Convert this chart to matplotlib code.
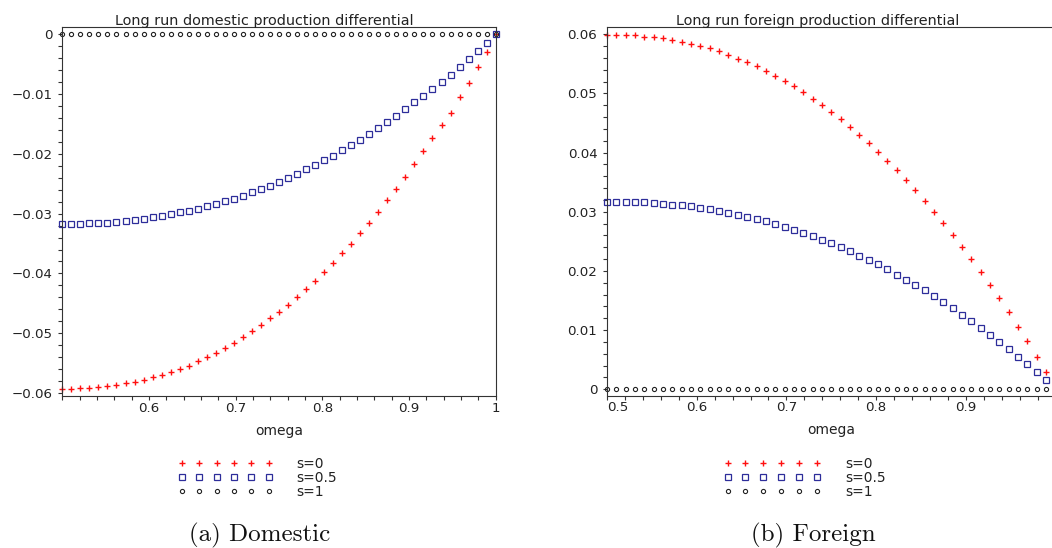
import numpy as np
import matplotlib
matplotlib.use("Agg")
import matplotlib.pyplot as plt
from matplotlib.ticker import FixedLocator, FixedFormatter, MultipleLocator

# ---------------- data ----------------
omega = np.linspace(0.5, 1.0, 49)

dom_s0 = [-0.0593, -0.0593, -0.0592, -0.0592, -0.0590, -0.0589, -0.0587, -0.0584, -0.0581, -0.0578,
          -0.0574, -0.0570, -0.0565, -0.0560, -0.0554, -0.0547, -0.0540, -0.0533, -0.0524, -0.0516,
          -0.0507, -0.0497, -0.0486, -0.0475, -0.0464, -0.0452, -0.0439, -0.0426, -0.0412, -0.0397,
          -0.0382, -0.0366, -0.0350, -0.0333, -0.0315, -0.0297, -0.0278, -0.0259, -0.0238, -0.0217,
          -0.0196, -0.0174, -0.0152, -0.0131, -0.0105, -0.0081, -0.0055, -0.0029, 0.0]
dom_s05 = [-0.0317, -0.0317, -0.0317, -0.0316, -0.0316, -0.0315, -0.0314, -0.0312, -0.0311, -0.0309,
           -0.0306, -0.0304, -0.0301, -0.0298, -0.0295, -0.0292, -0.0288, -0.0284, -0.0279, -0.0275,
           -0.0270, -0.0264, -0.0259, -0.0253, -0.0247, -0.0240, -0.0233, -0.0226, -0.0219, -0.0211,
           -0.0203, -0.0194, -0.0185, -0.0176, -0.0167, -0.0157, -0.0147, -0.0136, -0.0125, -0.0114,
           -0.0103, -0.0092, -0.0079, -0.0068, -0.0054, -0.0042, -0.0028, -0.0015, 0.0]
dom_s1 = [0.0] * 49

for_s0 = [0.0599, 0.0599, 0.0598, 0.0598, 0.0596, 0.0595, 0.0593, 0.0590, 0.0587, 0.0584,
          0.0580, 0.0576, 0.0571, 0.0565, 0.0559, 0.0553, 0.0546, 0.0538, 0.0530, 0.0521,
          0.0512, 0.0502, 0.0491, 0.0480, 0.0469, 0.0456, 0.0444, 0.0430, 0.0416, 0.0401,
          0.0386, 0.0370, 0.0354, 0.0336, 0.0318, 0.0300, 0.0281, 0.0261, 0.0241, 0.0220,
          0.0198, 0.0176, 0.0154, 0.0131, 0.0106, 0.0081, 0.0055, 0.0029, 0.0]
for_s05 = [0.0317, 0.0317, 0.0317, 0.0316, 0.0316, 0.0315, 0.0314, 0.0312, 0.0311, 0.0309,
           0.0306, 0.0304, 0.0301, 0.0298, 0.0295, 0.0292, 0.0288, 0.0284, 0.0279, 0.0275,
           0.0270, 0.0264, 0.0259, 0.0253, 0.0247, 0.0240, 0.0233, 0.0226, 0.0219, 0.0211,
           0.0203, 0.0194, 0.0185, 0.0176, 0.0167, 0.0157, 0.0147, 0.0137, 0.0126, 0.0115,
           0.0104, 0.0092, 0.0080, 0.0068, 0.0055, 0.0042, 0.0029, 0.0015, 0.0]
for_s1 = [0.0] * 49

series_labels = ["s=0", "s=0.5", "s=1"]

dom_xticks = [0.6, 0.7, 0.8, 0.9, 1.0]
dom_xticklabels = ["0.6", "0.7", "0.8", "0.9", "1"]
dom_yticks = [0.0, -0.01, -0.02, -0.03, -0.04, -0.05, -0.06]
dom_yticklabels = ["0", "\u22120.01", "\u22120.02", "\u22120.03", "\u22120.04", "\u22120.05", "\u22120.06"]

for_xticks = [0.5, 0.6, 0.7, 0.8, 0.9]
for_xticklabels = ["0.5", "0.6", "0.7", "0.8", "0.9"]
for_yticks = [0.0, 0.01, 0.02, 0.03, 0.04, 0.05, 0.06]
for_yticklabels = ["0", "0.01", "0.02", "0.03", "0.04", "0.05", "0.06"]

titles = ["Long run domestic production differential", "Long run foreign production differential"]
captions = ["(a) Domestic", "(b) Foreign"]
xlabel = "omega"

# ---------------- style ----------------
W, H = 1052, 548
fig = plt.figure(figsize=(W / 100, H / 100), dpi=100)
TXT = "#222222"
SPINE = "#333333"
styles = [dict(marker="+", color="#ff1010", ms=3.8, mew=1.0),
          dict(marker="s", color="#2d2d9a", ms=3.7, mew=0.9, mfc="none"),
          dict(marker="o", color="#222222", ms=3.0, mew=0.8, mfc="none")]


def px_axes(l, t, r, b):
    return fig.add_axes([l / W, 1 - b / H, (r - l) / W, (b - t) / H])


axL = px_axes(62.3, 27.3, 495.7, 396.0)
axR = px_axes(607.0, 27.3, 1055.5, 395.5)

panels = [
    (axL, [dom_s0, dom_s05, dom_s1], dom_xticks, dom_xticklabels, dom_yticks, dom_yticklabels, (-0.0605, 0.00117)),
    (axR, [for_s0, for_s05, for_s1], for_xticks, for_xticklabels, for_yticks, for_yticklabels, (-0.00105, 0.06118)),
]

for ax, ser, xt, xtl, yt, ytl, ylim in panels:
    for vals, st, lab in zip(ser, styles, series_labels):
        ax.plot(omega, vals, linestyle="none", label=lab, clip_on=False, **st)
    ax.set_xlim(0.5, 1.0)
    ax.set_ylim(*ylim)
    ax.xaxis.set_major_locator(FixedLocator(xt))
    ax.xaxis.set_major_formatter(FixedFormatter(xtl))
    ax.yaxis.set_major_locator(FixedLocator(yt))
    ax.yaxis.set_major_formatter(FixedFormatter(ytl))
    ax.xaxis.set_minor_locator(MultipleLocator(0.02))
    ax.yaxis.set_minor_locator(MultipleLocator(0.002))
    ax.tick_params(which="both", direction="out", length=3, width=0.8, color=SPINE)
    ax.tick_params(axis="x", which="major", labelsize=9.6, pad=1.0, labelcolor=TXT)
    ax.tick_params(axis="y", which="major", labelsize=9.6, pad=4.0, labelcolor=TXT)
    for s in ax.spines.values():
        s.set_color(SPINE)
        s.set_linewidth(0.8)
    ax.set_xlabel(xlabel, fontsize=10, color=TXT, labelpad=6.5)

axR.spines["right"].set_visible(False)
axR.xaxis.get_major_ticks()[0].label1.set_horizontalalignment("left")

# titles
fig.text(264.6 / W, 1 - 25 / H, titles[0], ha="center", va="baseline", fontsize=10.4, color=TXT)
fig.text(817.5 / W, 1 - 25 / H, titles[1], ha="center", va="baseline", fontsize=10.4, color=TXT)

# legends
fs = 10
for ax, (lx, ly), hl, htp in [(axL, (177.5, 457.0), 6.88, 1.70), (axR, (723.5, 457.0), 7.01, 1.79)]:
    h, l = ax.get_legend_handles_labels()
    leg = fig.legend(h, l, loc="upper left", bbox_to_anchor=(lx / W, 1 - ly / H),
                     bbox_transform=fig.transFigure, numpoints=6, frameon=False,
                     fontsize=fs, handlelength=hl, handletextpad=htp, labelspacing=-0.01,
                     borderpad=0, borderaxespad=0)
    for t in leg.get_texts():
        t.set_color(TXT)

# captions
fig.text(260 / W, 1 - 541 / H, captions[0], ha="center", va="baseline", fontsize=18, family="cmr10", color="#111111")
fig.text(813 / W, 1 - 541 / H, captions[1], ha="center", va="baseline", fontsize=18, family="cmr10", color="#111111")

fig.savefig("out.png", dpi=100)
